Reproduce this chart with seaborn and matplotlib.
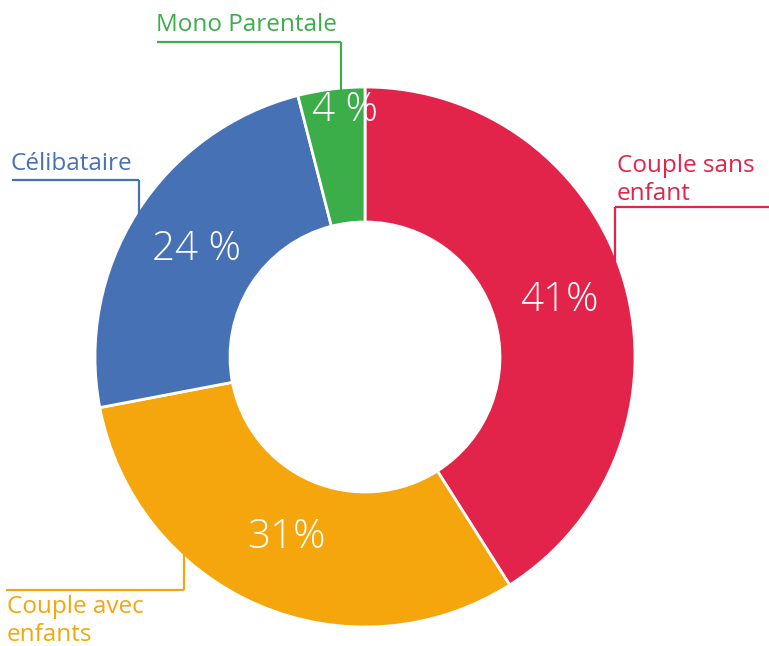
import numpy as np
import seaborn as sns
import matplotlib.pyplot as plt

# donnees
categories = ["Couple sans\nenfant", "Couple avec\nenfants", "Célibataire", "Mono Parentale"]
valeurs = [41, 31, 24, 4]
etiquettes_pct = ["41%", "31%", "24 %", "4 %"]
couleurs = ["#E2234A", "#F4A60C", "#4671B5", "#3BAE4A"]

sns.set_theme(style="white")
plt.rcParams['font.family'] = ['Open Sans', 'DejaVu Sans']

fig = plt.figure(figsize=(7.69, 6.46), dpi=100)
ax = fig.add_axes([0, 0, 1, 1])

cx, cy, R = 365, 289, 270
wedges, _ = ax.pie(valeurs, colors=couleurs, startangle=90, counterclock=False,
                   center=(cx, cy), radius=R, frame=True,
                   wedgeprops=dict(width=135, edgecolor="white", linewidth=2))
ax.set_xlim(0, 769)
ax.set_ylim(0, 646)
ax.set_aspect("equal")
ax.axis("off")

#pourcentages au milieu de chaque part (le petit 4 % decale un peu vers la droite)
rayons = [0.75, 0.73, 0.74, 0.92]
decalage = [0, 0, 0, 11]
for w, txt, r, d in zip(wedges, etiquettes_pct, rayons, decalage):
    ang = np.deg2rad((w.theta1 + w.theta2) / 2)
    ax.text(cx + r * R * np.cos(ang) + d, cy + r * R * np.sin(ang), txt,
            color="white", fontsize=29, ha="center", va="center", fontweight="light")

#etiquettes et traits
H = 646
def trait(xs, ys, c):
    ax.plot(xs, [H - y for y in ys], color=c, lw=1.6, solid_capstyle="butt")

taille = 17.5
trait([615, 769], [207, 207], couleurs[0]); trait([615, 615], [207, 282], couleurs[0])
ax.text(617, H - 180, categories[0], color=couleurs[0], fontsize=taille, ha="left", va="center", linespacing=1.2)

trait([6, 184], [590, 590], couleurs[1]); trait([184, 184], [590, 555], couleurs[1])
ax.text(7, H - 621, categories[1], color=couleurs[1], fontsize=taille, ha="left", va="center", linespacing=1.2)

trait([12, 139], [180, 180], couleurs[2]); trait([139, 139], [180, 222], couleurs[2])
ax.text(11, H - 164, categories[2], color=couleurs[2], fontsize=taille, ha="left", va="center")

trait([157, 341], [42, 42], couleurs[3]); trait([341, 341], [42, 90], couleurs[3])
ax.text(156, H - 25, categories[3], color=couleurs[3], fontsize=taille, ha="left", va="center")

fig.savefig("out.png", dpi=100)
